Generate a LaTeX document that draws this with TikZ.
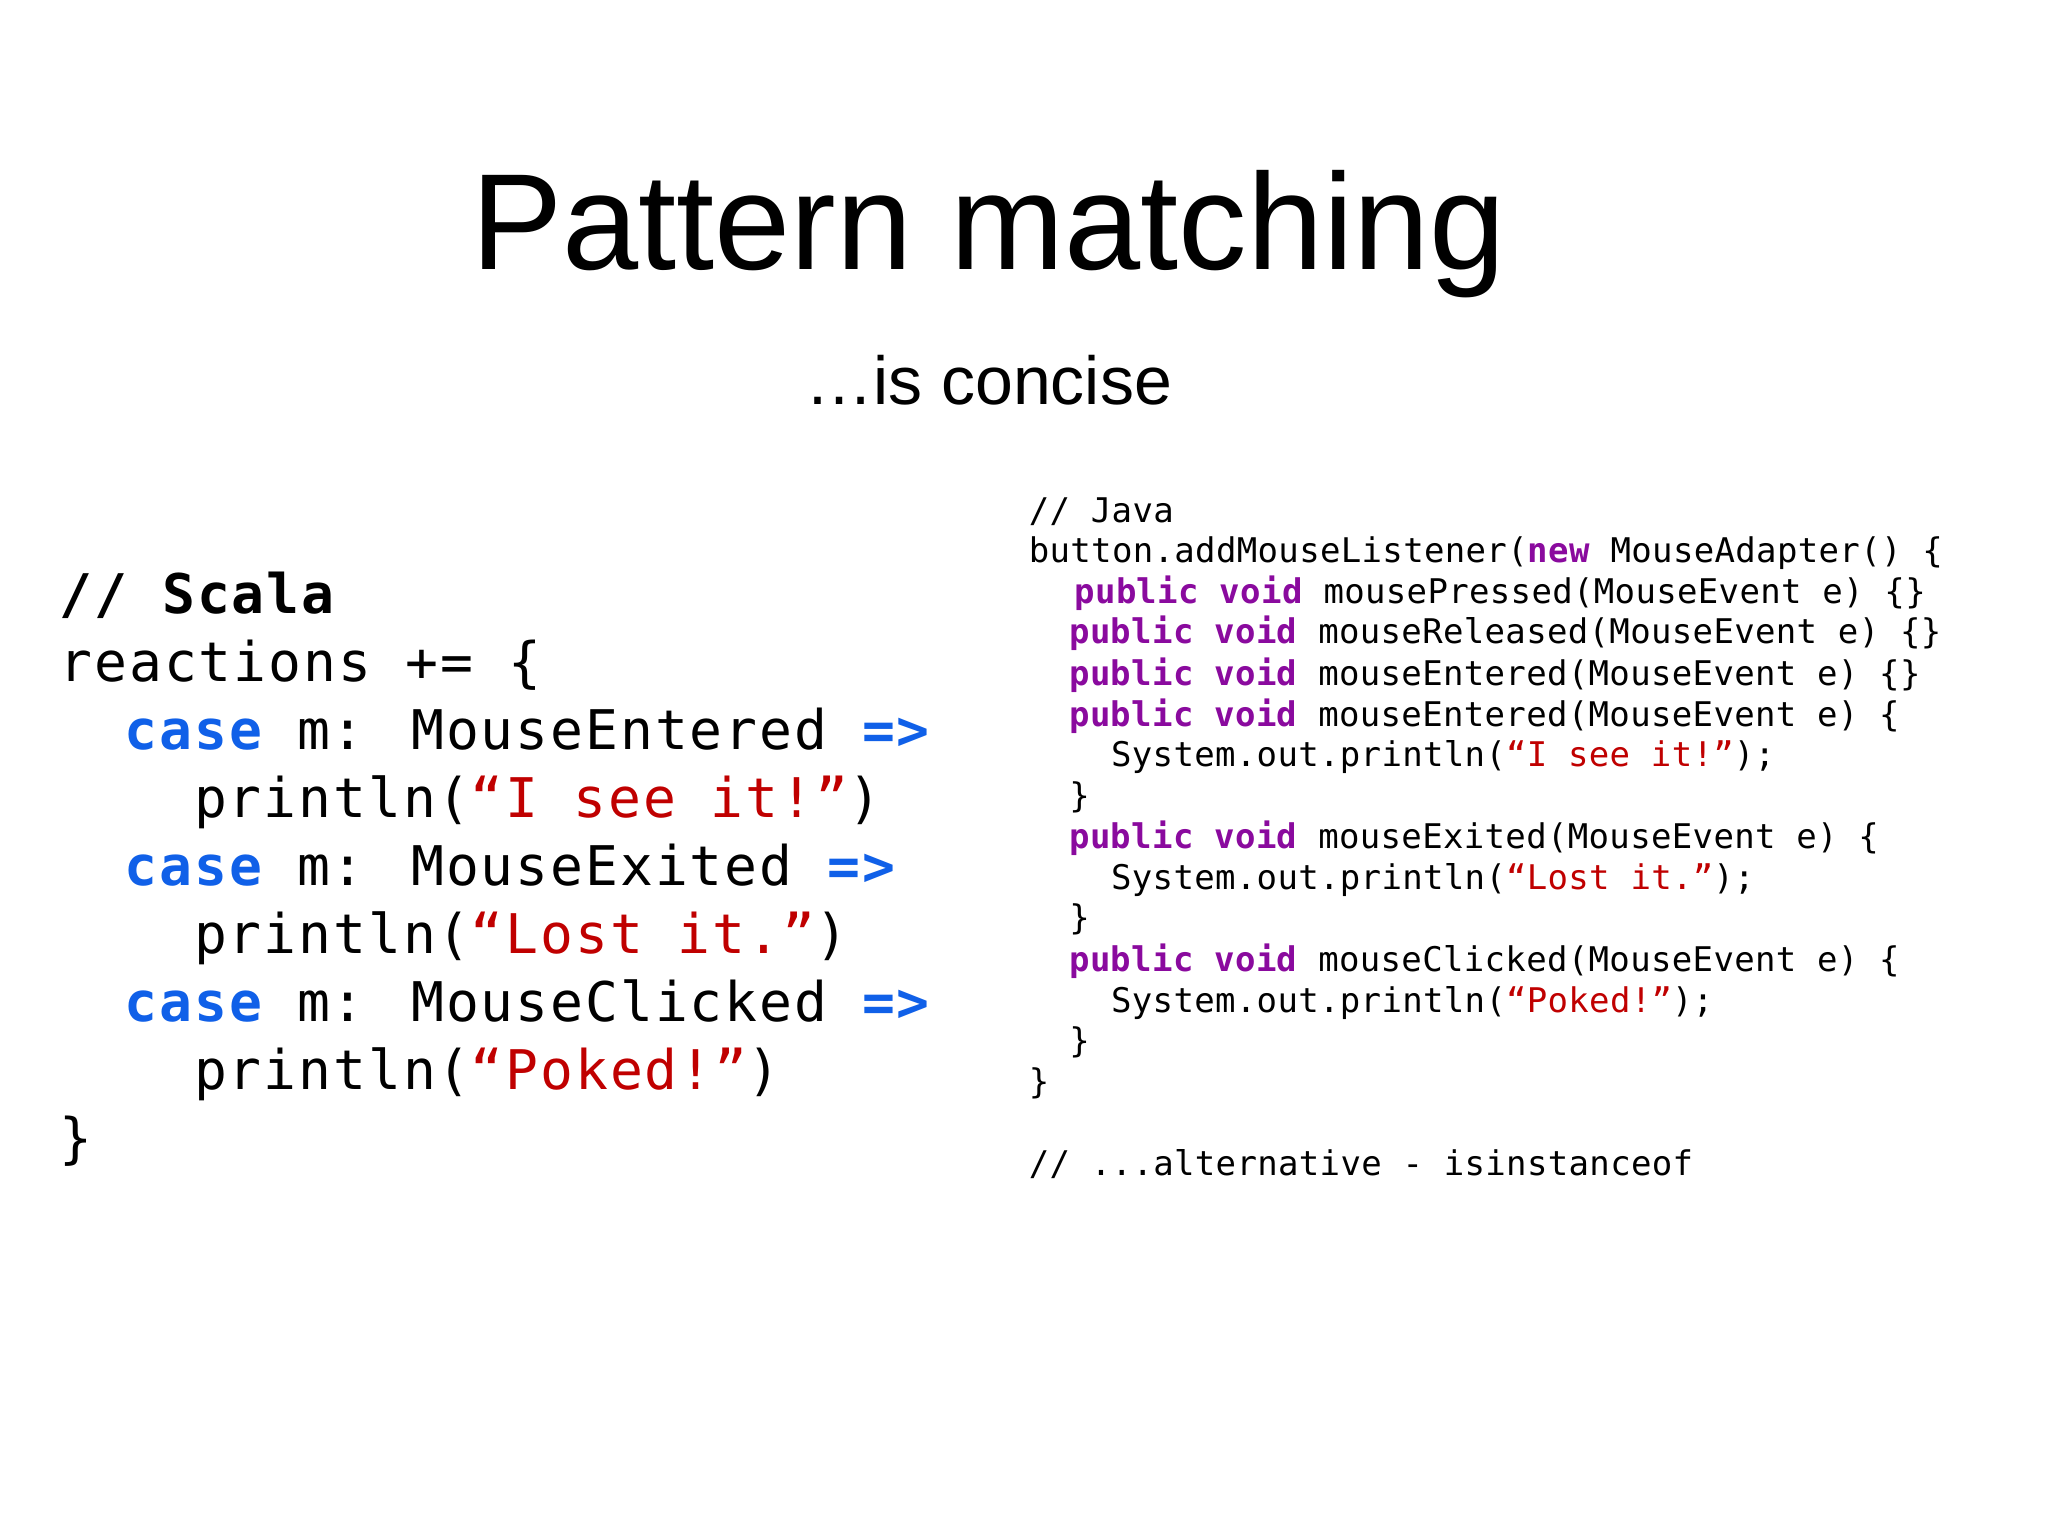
\documentclass[tikz,border=0pt]{standalone}
\usepackage{fontspec}
\setmainfont{Liberation Sans}
\newfontfamily\codefont[LetterSpace=3.5]{DejaVu Sans Mono}
\newfontfamily\jcodefont[LetterSpace=1]{DejaVu Sans Mono}
\definecolor{kwblue}{HTML}{1060E8}
\definecolor{strred}{HTML}{C00000}
\definecolor{kwpurple}{HTML}{8A0A9E}
\newcommand{\kb}[1]{\textcolor{kwblue}{#1}}
\newcommand{\sr}[1]{\textcolor{strred}{#1}}
\newcommand{\kp}[1]{\textcolor{kwpurple}{\bfseries #1}}
\begin{document}
\begin{tikzpicture}[x=0.01cm,y=-0.01cm,
  sc/.style={anchor=base west,inner sep=0,font=\codefont\fontsize{11.9}{14}\selectfont},
  jv/.style={anchor=base west,inner sep=0,font=\jcodefont\fontsize{7.4}{9}\selectfont}]
\fill[white] (0,0) rectangle (1568,1176);
\node[anchor=base,inner sep=0,font=\fontsize{29.8}{36}\selectfont] (title) at (757,206) {Pattern matching};
\node[anchor=base,inner sep=0,font=\fontsize{14.8}{18}\selectfont] (sub) at (757,310) {\dots is concise};
% Scala
\node[sc] (s1) at (45,470) {\bfseries // Scala};
\node[sc] (s2) at (45,522) {reactions += \{};
\node[sc] (s3) at (95,574) {\kb{\bfseries case} m: MouseEntered \kb{\bfseries =>}};
\node[sc] (s4) at (148,626) {println(\sr{“I see it!”})};
\node[sc] (s5) at (95,678) {\kb{\bfseries case} m: MouseExited \kb{\bfseries =>}};
\node[sc] (s6) at (148,730) {println(\sr{“Lost it.”})};
\node[sc] (s7) at (95,782) {\kb{\bfseries case} m: MouseClicked \kb{\bfseries =>}};
\node[sc] (s8) at (148,834) {println(\sr{“Poked!”})};
\node[sc] (s9) at (45,886) {\}};
% Java
\node[jv] (j1) at (787,400) {// Java};
\node[jv] (j2) at (787,431) {button.addMouseListener(\kp{new} MouseAdapter() \{};
\node[jv] (j3) at (822,462) {\kp{public void} mousePressed(MouseEvent e) \{\}};
\node[jv] (j4) at (818,493) {\kp{public void} mouseReleased(MouseEvent e) \{\}};
\node[jv] (j5) at (818,525) {\kp{public void} mouseEntered(MouseEvent e) \{\}};
\node[jv] (j6) at (818,556) {\kp{public void} mouseEntered(MouseEvent e) \{};
\node[jv] (j7) at (850,587) {System.out.println(\sr{“I see it!”});};
\node[jv] (j8) at (818,618) {\}};
\node[jv] (j9) at (818,650) {\kp{public void} mouseExited(MouseEvent e) \{};
\node[jv] (j10) at (850,681) {System.out.println(\sr{“Lost it.”});};
\node[jv] (j11) at (818,712) {\}};
\node[jv] (j12) at (818,744) {\kp{public void} mouseClicked(MouseEvent e) \{};
\node[jv] (j13) at (850,775) {System.out.println(\sr{“Poked!”});};
\node[jv] (j14) at (818,806) {\}};
\node[jv] (j15) at (787,837) {\}};
\node[jv] (j16) at (787,900) {// ...alternative - isinstanceof};
\end{tikzpicture}
\end{document}
